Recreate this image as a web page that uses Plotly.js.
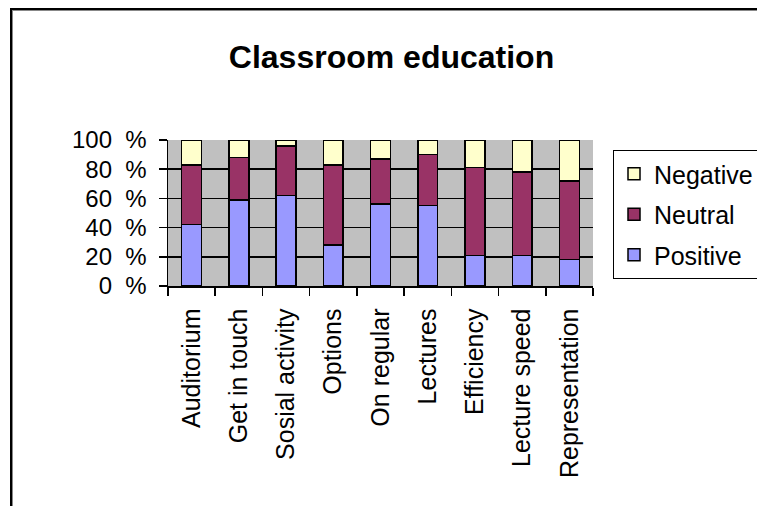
<!DOCTYPE html>
<html>
<head>
<meta charset="utf-8">
<script src="https://cdn.plot.ly/plotly-3.0.1.min.js"></script>
<style>
html,body{margin:0;padding:0;background:#fff;overflow:hidden;}
#wrap{position:relative;width:757px;height:506px;overflow:hidden;}
#chart{width:757px;height:506px;}
#mask{position:absolute;left:700px;top:13px;width:57px;height:100px;background:#fff;pointer-events:none;}
#frame{position:absolute;left:10px;top:8px;width:800px;height:600px;border-top:2.5px solid #000;border-left:2.5px solid #000;box-shadow:inset 1px 1px 0 #888;pointer-events:none;}
</style>
</head>
<body>
<div id="wrap"><div id="chart"></div><div id="mask"></div><div id="frame"></div></div>
<script>
const categories = ["Auditorium", "Get in touch", "Sosial activity", "Options", "On regular", "Lectures", "Efficiency", "Lecture speed", "Representation"];
const positive = [42, 59, 62, 28, 56, 55, 21, 21, 18];
const neutral  = [41, 29, 34, 55, 31, 35, 60, 57, 54];
const negative = [17, 12, 4, 17, 13, 10, 19, 22, 28];
const yTickVals = [0, 20, 40, 60, 80, 100];
const yTickText = ["0\u00A0\u00A0%", "20\u00A0\u00A0%", "40\u00A0\u00A0%", "60\u00A0\u00A0%", "80\u00A0\u00A0%", "100\u00A0\u00A0%"];

const W = 757, H = 506;
const L = 168, R = 593, T = 140, B = 286;
const px = x => (x - L) / (R - L);
const py = y => (B - y) / (B - T);

const font = "Arial, 'Liberation Sans', sans-serif";
const line = {color: "#000", width: 1.5};

const traces = [
  {name: "Positive", y: positive, color: "#9999FF", rank: 3},
  {name: "Neutral", y: neutral, color: "#993366", rank: 2},
  {name: "Negative", y: negative, color: "#FFFFCC", rank: 1}
].map(s => ({
  type: "bar", x: categories, y: s.y, name: s.name, legendgroup: s.name, legendrank: s.rank,
  marker: {color: s.color, line: line}, hoverinfo: "none"
}));

const layout = {
  width: W, height: H,
  margin: {l: L, r: W - R, t: T, b: H - B, pad: 0, autoexpand: false},
  paper_bgcolor: "#fff", plot_bgcolor: "#C0C0C0",
  barmode: "stack", bargap: 0.58,
  showlegend: true,
  title: {text: "Classroom education", font: {family: font, size: 32, color: "#000", weight: "bold"},
          x: 391.5 / W, xanchor: "center", xref: "container", y: 1 - 57 / H, yanchor: "middle", yref: "container"},
  xaxis: {type: "category", tickson: "boundaries", ticks: "outside", ticklen: 8, tickwidth: 1.5, tickcolor: "#000",
          tickangle: -90, tickfont: {family: font, size: 25, color: "#000"}, showline: true, linecolor: "#000", linewidth: 1.5,
          showgrid: false, zeroline: false, ticklabelstandoff: 11, fixedrange: true, automargin: false},
  yaxis: {range: [0, 100], tickvals: yTickVals, ticktext: yTickText, ticks: "outside", ticklen: 8, tickwidth: 1.5,
          tickcolor: "#000", tickfont: {family: font, size: 24, color: "#000"}, showline: true, linecolor: "#000", linewidth: 1.5,
          showgrid: true, gridcolor: "#000", gridwidth: 1.5, zeroline: false, ticklabelstandoff: 7, fixedrange: true, automargin: false},
  legend: {x: px(613), xanchor: "left", y: py(150), yanchor: "top", bgcolor: "#fff", bordercolor: "#000", borderwidth: 1,
           font: {family: font, size: 25, color: "#000"}, traceorder: "grouped", tracegroupgap: 5}
};

Plotly.newPlot("chart", traces, layout, {displayModeBar: false, staticPlot: true});
</script>
</body>
</html>
